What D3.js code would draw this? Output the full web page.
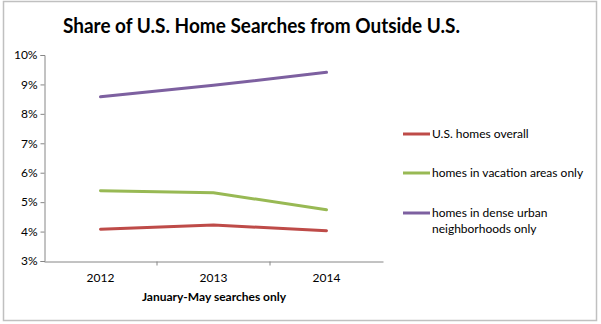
<!DOCTYPE html>
<html><head><meta charset="utf-8">
<script src="https://cdn.jsdelivr.net/npm/d3@7"></script>
<style>body{margin:0;background:#fff}svg{display:block}</style>
</head><body>
<script>
const years = ["2012", "2013", "2014"];
const overall = [4.08, 4.22, 4.03];
const vacation = [5.39, 5.32, 4.74];
const urban = [8.58, 8.97, 9.41];
const seriesNames = ["U.S. homes overall", "homes in vacation areas only", "homes in dense urban neighborhoods only"];
const colors = ["#be4b48", "#98b954", "#7d60a0"];
const yTicks = [3, 4, 5, 6, 7, 8, 9, 10];

const W = 601, H = 324;
const svg = d3.select("body").append("svg").attr("width", W).attr("height", H);
svg.append("rect").attr("x", 3.5).attr("y", 1.5).attr("width", 593).attr("height", 319)
  .attr("fill", "#fff").attr("stroke", "#c0c0c0").attr("stroke-width", 1.5);

const font = "Lato, 'Open Sans', sans-serif";
svg.append("text").attr("x", 63).attr("y", 33)
  .attr("font-family", font).attr("font-weight", "bold").attr("font-size", 21)
  .attr("textLength", 397).attr("lengthAdjust", "spacingAndGlyphs")
  .attr("fill", "#000").text("Share of U.S. Home Searches from Outside U.S.");

const x = d3.scaleBand().domain(years).range([44, 383]);
const y = d3.scaleLinear().domain([3, 10]).range([261, 55]);

const gy = svg.append("g").attr("transform", "translate(44.5,0)")
  .call(d3.axisLeft(y).tickValues(yTicks).tickSize(4).tickFormat(d => d + "%"));
const gx = svg.append("g").attr("transform", "translate(0,261.5)")
  .call(d3.axisBottom(x).tickSize(0).tickPadding(12));
gx.selectAll(".tick").append("line").attr("stroke", "#868686")
  .attr("x1", x.bandwidth() / 2).attr("x2", x.bandwidth() / 2).attr("y1", 0).attr("y2", 4);
[gx, gy].forEach(g => {
  g.select(".domain").attr("stroke", "#868686");
  g.selectAll(".tick line").attr("stroke", "#868686");
  g.selectAll("text").attr("font-family", font).attr("font-size", 12).attr("fill", "#000");
});
gy.selectAll("text").attr("x", -7);
gx.selectAll(".tick:last-child line").remove();

svg.append("text").attr("x", 214).attr("y", 301).attr("text-anchor", "middle")
  .attr("font-family", font).attr("font-weight", "bold").attr("font-size", 12)
  .text("January-May searches only");

const data = [overall, vacation, urban];
const line = d3.line().x((d, i) => x(years[i]) + x.bandwidth() / 2).y(d => y(d));
data.forEach((s, k) => {
  svg.append("path").datum(s).attr("d", line).attr("fill", "none")
    .attr("stroke", colors[k]).attr("stroke-width", 3).attr("stroke-linecap", "round");
});

const legY = [134, 173, 213];
seriesNames.forEach((n, k) => {
  svg.append("line").attr("x1", 403).attr("x2", 430).attr("y1", legY[k]).attr("y2", legY[k])
    .attr("stroke", colors[k]).attr("stroke-width", 3);
  const t = svg.append("text").attr("x", 432).attr("y", legY[k] + 4)
    .attr("font-family", font).attr("font-size", 12).attr("fill", "#000");
  if (k === 2) {
    t.append("tspan").attr("x", 432).text("homes in dense urban");
    t.append("tspan").attr("x", 432).attr("dy", 15.5).text("neighborhoods only");
  } else t.text(n);
});
</script>
</body></html>
